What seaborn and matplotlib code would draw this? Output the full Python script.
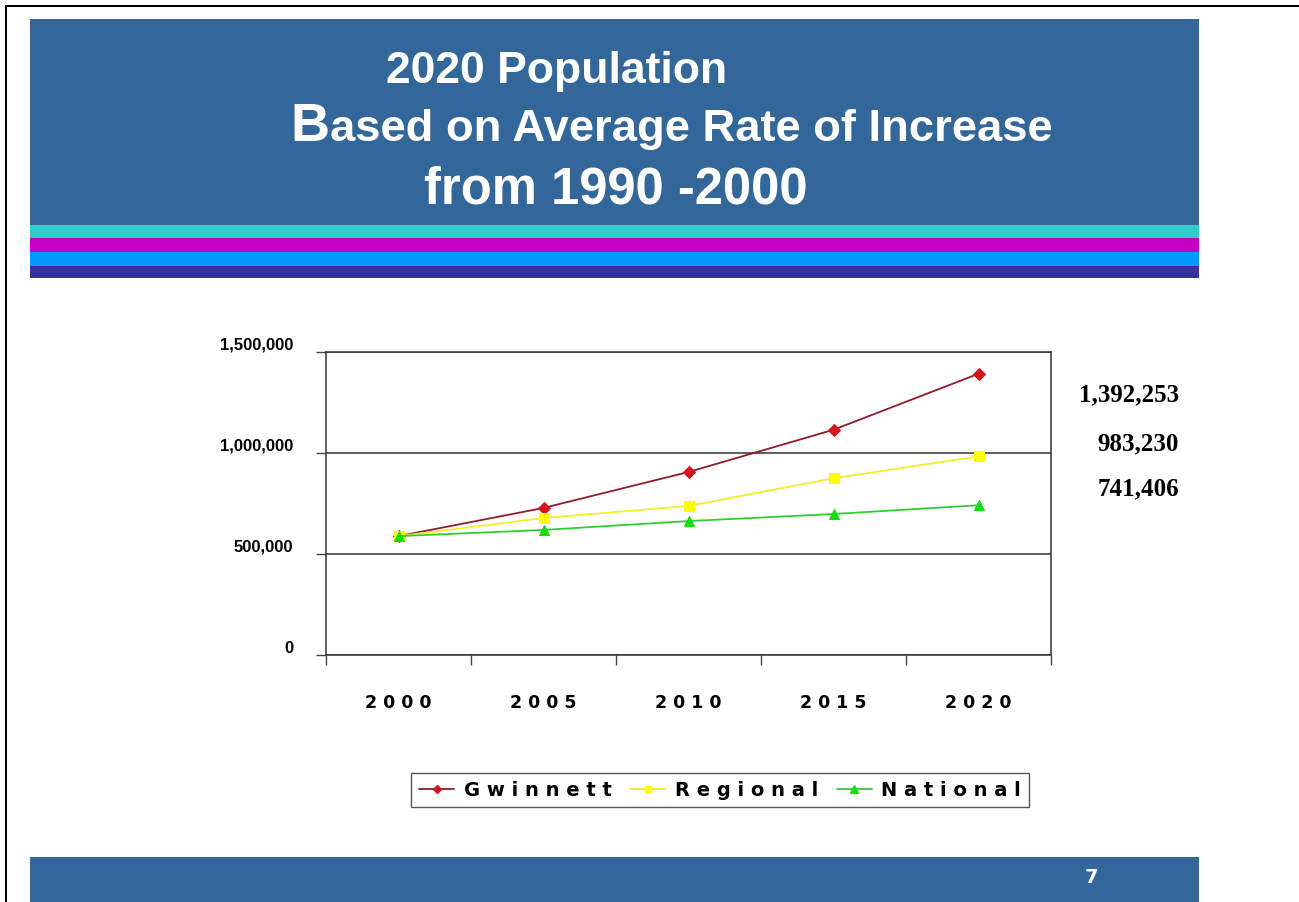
import matplotlib
matplotlib.use("Agg")
import matplotlib.pyplot as plt
from matplotlib.patches import Rectangle
from matplotlib.lines import Line2D
from matplotlib.ticker import FixedLocator, FuncFormatter
from matplotlib.font_manager import FontProperties
import seaborn as sns
import pandas as pd

# ---- data -------------------------------------------------------------
years = [2000, 2005, 2010, 2015, 2020]
gwinnett = [588448, 728000, 906000, 1115000, 1392253]
regional = [588448, 678000, 738000, 875000, 983230]
national = [588448, 619000, 663000, 698000, 741406]
series_names = ["Gwinnett", "Regional", "National"]
y_ticks = [0, 500000, 1000000, 1500000]

title_line1 = "2020 Population"
title_line2_initial = "B"
title_line2_rest = "ased on Average Rate of Increase"
title_line3 = "from 1990 -2000"
page_number = "7"

# ---- styling ----------------------------------------------------------
sns.set_theme(style="white")
plt.rcParams["font.family"] = ["Liberation Sans", "DejaVu Sans"]
plt.rcParams["text.color"] = "black"
plt.rcParams["xtick.color"] = "black"
plt.rcParams["ytick.color"] = "black"

W, H = 1299, 903
fig = plt.figure(figsize=(W / 100, H / 100), dpi=100)
fig.patch.set_facecolor("white")


def fx(x):
    return x / W


def fy(y):
    return 1 - y / H


def band(x0, y0, x1, y1, color):
    fig.patches.append(Rectangle((fx(x0), fy(y1)), fx(x1) - fx(x0), fy(y0) - fy(y1),
                                 transform=fig.transFigure, facecolor=color,
                                 edgecolor="none", zorder=0))


BANNER = "#336699"
# page frame (top and left rules)
band(5, 6, W, 8, "black")
band(5, 6, 7, H, "black")
# title banner and colour stripes
band(30, 20, 1199, 226, BANNER)
band(30, 226, 1199, 239, "#33CCCC")
band(30, 239, 1199, 253, "#C400C4")
band(30, 253, 1199, 267, "#0099FF")
band(30, 267, 1199, 279, "#333399")
# footer banner
band(30, 858, 1199, H, BANNER)

# title
fig.text(fx(557), fy(71), title_line1, color="white", fontsize=32,
         fontweight="bold", ha="center", va="center")
t_b = fig.text(fx(290), fy(141), title_line2_initial, color="white", fontsize=39,
               fontweight="bold", ha="left", va="baseline")
fig.canvas.draw()
b_right = t_b.get_window_extent(fig.canvas.get_renderer()).x1
fig.text(b_right / W + 0.001, fy(141), title_line2_rest, color="white", fontsize=32.7,
         fontweight="bold", ha="left", va="baseline")
fig.text(fx(616), fy(190), title_line3, color="white", fontsize=36.5,
         fontweight="bold", ha="center", va="center")
fig.text(fx(1092), fy(878), page_number, color="white", fontsize=14,
         fontweight="bold", family="DejaVu Sans", ha="center", va="center")

# ---- chart ------------------------------------------------------------
ax = fig.add_axes([fx(326), fy(656), fx(1051) - fx(326), fy(353) - fy(656)])
ax.set_facecolor("white")

df = pd.DataFrame({
    "year": years * 3,
    "population": gwinnett + regional + national,
    "series": [n for n in series_names for _ in years],
})

styles = {
    "Gwinnett": dict(line="#921A2C", face="#D41420", marker="D", ms=6),
    "Regional": dict(line="#F2EE2A", face="#FFFF00", marker="s", ms=6.5),
    "National": dict(line="#33CC33", face="#11DD11", marker="^", ms=7.5),
}

for name in series_names:
    st = styles[name]
    sub = df[df["series"] == name]
    sns.lineplot(data=sub, x="year", y="population", ax=ax, color=st["line"],
                 linewidth=1.3, marker=st["marker"], markersize=st["ms"],
                 markerfacecolor=st["face"], markeredgecolor=st["face"],
                 legend=False, zorder=3)

ax.set_xlim(years[0] - 2.5, years[-1] + 2.5)
ax.set_ylim(0, 1500000)
ax.set_xlabel("")
ax.set_ylabel("")

xtick_font = FontProperties(family="DejaVu Sans", weight="bold", size=12.5)
ytick_font = FontProperties(family="Liberation Sans", weight="bold", size=12)


def spaced(s, sep=" "):
    return sep.join(s)


# category axis: labels at centres, tick marks at the boundaries
ax.xaxis.set_major_locator(FixedLocator(years))
ax.xaxis.set_major_formatter(FuncFormatter(lambda v, p: spaced(str(int(round(v))))))
ax.xaxis.set_minor_locator(FixedLocator([y - 2.5 for y in years] + [years[-1] + 2.5]))
ax.tick_params(axis="x", which="major", length=0, pad=27, labelcolor="black")
ax.tick_params(axis="x", which="minor", length=7, width=1, color="#444444",
               direction="out", bottom=True)
for lab in ax.get_xticklabels():
    lab.set_fontproperties(xtick_font)

ax.yaxis.set_major_locator(FixedLocator(y_ticks))
ax.yaxis.set_major_formatter(FuncFormatter(lambda v, p: f"{int(v):,}"))
ax.tick_params(axis="y", which="major", length=7, width=1, color="#444444",
               direction="out", left=True, pad=16.5, labelcolor="black")
for lab in ax.get_yticklabels():
    lab.set_fontproperties(ytick_font)
    lab.set_va("bottom")

ax.grid(axis="y", color="#333333", linewidth=1.1)
ax.grid(axis="x", visible=False)
for sp in ax.spines.values():
    sp.set_visible(True)
    sp.set_color("#333333")
    sp.set_linewidth(1.1)

# end-of-period values beside the plot
finals = [gwinnett[-1], regional[-1], national[-1]]
for val, ypix in zip(finals, [395, 444, 489]):
    fig.text(fx(1179), fy(ypix), f"{val:,}", ha="right", va="center",
             fontsize=18, fontweight="bold", family="Liberation Serif", color="black")

# legend
handles = [Line2D([], [], color=styles[n]["line"], lw=1.3, marker=styles[n]["marker"],
                  markersize=styles[n]["ms"] - 1.5, markerfacecolor=styles[n]["face"],
                  markeredgecolor=styles[n]["face"]) for n in series_names]
leg = ax.legend(handles, [spaced(n) for n in series_names], loc="center",
                bbox_to_anchor=(fx(720), fy(791)), bbox_transform=fig.transFigure,
                ncol=3, frameon=True, fancybox=False, framealpha=1,
                edgecolor="#555555", handlelength=1.8, handletextpad=0.5,
                columnspacing=0.95, borderpad=0.4,
                prop=FontProperties(family="DejaVu Sans", weight="bold", size=14))
leg.get_frame().set_linewidth(1.0)
for t in leg.get_texts():
    t.set_color("black")

fig.savefig("out.png", dpi=100, facecolor="white")
